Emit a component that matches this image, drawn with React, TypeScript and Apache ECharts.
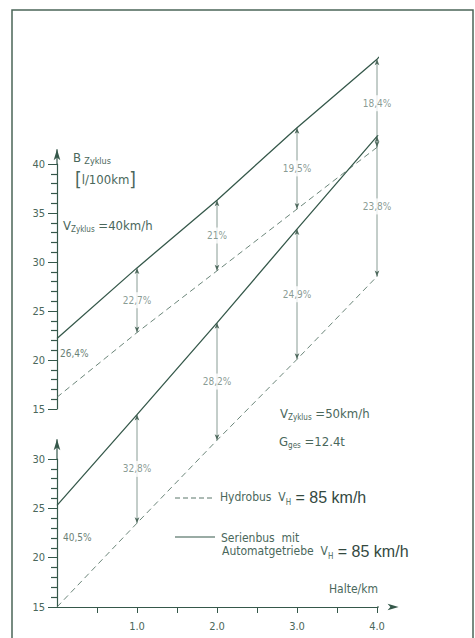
import React, { useEffect, useRef } from "react";
import * as echarts from "echarts";

// Halte/km positions of the drawn points (last one = end of the drawn line)
const halte = [0, 1, 2, 3, 4, 4.16];
// V Zyklus = 40 km/h (upper scale, l/100km)
const serien40 = [22.2, 29.4, 36.3, 43.7, 50.7, 52.0];
const hydro40 = [16.2, 22.8, 29.1, 35.4, 41.7, 42.8];
// V Zyklus = 50 km/h (lower scale, l/100km)
const serien50 = [25.3, 34.5, 43.8, 53.3, 62.7, 64.6];
const hydro50 = [15.0, 23.5, 31.9, 40.1, 48.5, 49.9];
// savings annotations
const arrowHalte = [1, 2, 3, 4];
const pct40 = ["22,7%", "21%", "19,5%", "18,4%"];
const pct50 = ["32,8%", "28,2%", "24,9%", "23,8%"];
const pct40Zero = "26,4%";
const pct50Zero = "40,5%";
// axes
const xTickValues = [0.5, 1, 1.5, 2, 2.5, 3, 3.5, 4];
const xLabelValues = [1, 2, 3, 4];
const majorTicks40 = [15, 20, 25, 30, 35, 40];
const majorTicks50 = [15, 20, 25, 30];
const minorTicks40 = [16, 17, 18, 19, 21, 22, 23, 24, 26, 27, 28, 29, 31, 32, 33, 34, 36, 37, 38, 39];
const minorTicks50 = [16, 17, 18, 19, 21, 22, 23, 24, 26, 27, 28, 29];
const xArrowEnd = 4.27;
const yArrowEnd40 = 41.5;
const yArrowEnd50 = 32;

const F = "'DejaVu Sans Condensed', 'Liberation Sans Narrow', 'DejaVu Sans', sans-serif";
const BIG = "'Liberation Sans', Arimo, sans-serif";
const LINE = "#35584a";
const TEXT = "#4a675b";
const LIGHT = "#6a8177";

function lineSeries(name: string, xi: number, ys: number[], dashed: boolean) {
  return {
    name,
    type: "line",
    xAxisIndex: xi,
    yAxisIndex: xi * 2,
    data: halte.map((x, i) => [x, ys[i]]),
    showSymbol: false,
    symbol: "none",
    clip: false,
    silent: true,
    z: 3,
    lineStyle: dashed
      ? { color: "#5a776a", width: 0.9, type: [6, 4] }
      : { color: LINE, width: 1.3 },
  };
}

function arrowSeries(xi: number, top: number[], bottom: number[]) {
  return arrowHalte.map((x) => {
    const i = halte.indexOf(x);
    return {
      type: "line",
      xAxisIndex: xi,
      yAxisIndex: xi * 2,
      clip: false,
      silent: true,
      z: 2,
      symbol: "arrow",
      symbolSize: [3.5, 6],
      showSymbol: true,
      itemStyle: { color: "#4d685c" },
      lineStyle: { color: "#6b8378", width: 0.8 },
      data: [
        { value: [x, top[i]], symbolRotate: 0 },
        { value: [x, bottom[i]], symbolRotate: 180 },
      ],
    };
  });
}

function labelSeries(xi: number, top: number[], bottom: number[], texts: string[]) {
  return {
    type: "scatter",
    xAxisIndex: xi,
    yAxisIndex: xi * 2,
    clip: false,
    silent: true,
    z: 5,
    symbolSize: 1,
    itemStyle: { color: "rgba(0,0,0,0)" },
    data: arrowHalte.map((x) => {
      const i = halte.indexOf(x);
      return [x, (top[i] + bottom[i]) / 2];
    }),
    label: {
      show: true,
      position: "inside",
      formatter: (p: any) => texts[p.dataIndex],
      color: LIGHT,
      fontSize: 10,
      fontFamily: F,
      backgroundColor: "#ffffff",
      padding: [3, 1],
    },
  };
}

function axisArrow(xi: number, from: number[], to: number[], rot: number) {
  return {
    type: "line",
    xAxisIndex: xi,
    yAxisIndex: xi * 2,
    clip: false,
    silent: true,
    z: 4,
    showSymbol: true,
    lineStyle: { color: LINE, width: 1.2 },
    itemStyle: { color: LINE },
    data: [
      { value: from, symbol: "none" },
      { value: to, symbol: "arrow", symbolSize: [5, 11], symbolRotate: rot },
    ],
  };
}

function yAxisMajor(gridIndex: number, max: number, ticks: number[]) {
  return {
    type: "value",
    gridIndex,
    position: "left",
    offset: 0,
    min: 15,
    max,
    interval: 5,
    axisLine: { show: true, onZero: false, lineStyle: { color: LINE, width: 1.2 } },
    axisTick: { show: true, length: 9, customValues: ticks, lineStyle: { color: LINE, width: 1 } },
    splitLine: { show: false },
    axisLabel: { customValues: ticks, color: TEXT, fontSize: 11, fontFamily: F, margin: 12 },
  };
}

function yAxisMinor(gridIndex: number, max: number, ticks: number[]) {
  return {
    type: "value",
    gridIndex,
    position: "left",
    offset: 0,
    min: 15,
    max,
    interval: 5,
    axisLine: { show: false, onZero: false },
    axisTick: { show: true, length: 6, customValues: ticks, lineStyle: { color: LINE, width: 1.2 } },
    splitLine: { show: false },
    axisLabel: { show: false },
  };
}

export default function App() {
  const ref = useRef<HTMLDivElement>(null);
  useEffect(() => {
    if (!ref.current) return;
    const chart = echarts.init(ref.current, null, { renderer: "svg" });
    const sub = { fontSize: 8, fontFamily: F, fill: TEXT, verticalAlign: "bottom", lineHeight: 17 } as any;
    const mid = { fontSize: 13, fontFamily: F, fill: TEXT, verticalAlign: "middle", lineHeight: 17 } as any;
    chart.setOption({
      animation: false,
      backgroundColor: "#ffffff",
      grid: [
        { left: 57, top: 164, width: 320, height: 245 },
        { left: 57, top: 459, width: 320, height: 148 },
      ],
      xAxis: [
        { type: "value", gridIndex: 0, min: 0, max: 4, show: false },
        {
          type: "value",
          gridIndex: 1,
          min: 0,
          max: 4,
          interval: 0.5,
          axisLine: { show: true, onZero: false, lineStyle: { color: LINE, width: 1.2 } },
          axisTick: { show: true, length: 6, customValues: xTickValues, lineStyle: { color: LINE, width: 1 } },
          splitLine: { show: false },
          axisLabel: {
            customValues: xLabelValues,
            color: TEXT,
            fontSize: 11,
            fontFamily: F,
            margin: 14,
            formatter: (v: number) => (v > 0 && Number.isInteger(v) ? v.toFixed(1) : ""),
          },
        },
      ],
      yAxis: [
        yAxisMajor(0, 40, majorTicks40),
        yAxisMinor(0, 40, minorTicks40),
        yAxisMajor(1, 30, majorTicks50),
        yAxisMinor(1, 30, minorTicks50),
      ],
      series: [
        lineSeries("Serienbus 40", 0, serien40, false),
        lineSeries("Hydrobus 40", 0, hydro40, true),
        lineSeries("Serienbus 50", 1, serien50, false),
        lineSeries("Hydrobus 50", 1, hydro50, true),
        ...arrowSeries(0, serien40, hydro40),
        ...arrowSeries(1, serien50, hydro50),
        labelSeries(0, serien40, hydro40, pct40),
        labelSeries(1, serien50, hydro50, pct50),
        axisArrow(0, [0, 40], [0, yArrowEnd40], 0),
        axisArrow(1, [0, 30], [0, yArrowEnd50], 0),
        axisArrow(1, [4, 15], [xArrowEnd, 15], -90),
      ],
      graphic: [
        {
          type: "rect",
          shape: { x: 12, y: 10, width: 461, height: 645 },
          style: { fill: "none", stroke: "#4b6558", lineWidth: 1.5 },
          silent: true,
        },
        {
          type: "text",
          x: 73,
          y: 157,
          style: {
            text: "{b|B} {s|Zyklus}",
            verticalAlign: "middle",
            rich: { b: mid, s: { ...sub, fontSize: 9 } },
          },
        },
        {
          type: "text",
          x: 75,
          y: 179,
          style: {
            text: "{br|[}{t|l/100km}{br|]}",
            verticalAlign: "middle",
            rich: {
              br: { fontSize: 19, fontFamily: F, fill: TEXT, fontWeight: 200 },
              t: { fontSize: 13, fontFamily: F, fill: TEXT },
            },
          },
        },
        {
          type: "text",
          x: 63,
          y: 225,
          style: {
            text: "{v|V}{s|Zyklus}{t| =40km/h}",
            verticalAlign: "middle",
            rich: { v: mid, s: sub, t: mid },
          },
        },
        {
          type: "text",
          x: 280,
          y: 413,
          style: {
            text: "{v|V}{s|Zyklus}{t| =50km/h}",
            verticalAlign: "middle",
            rich: { v: mid, s: sub, t: mid },
          },
        },
        {
          type: "text",
          x: 279,
          y: 441,
          style: {
            text: "{v|G}{s|ges}{t| =12.4t}",
            verticalAlign: "middle",
            rich: { v: mid, s: sub, t: mid },
          },
        },
        {
          type: "text",
          x: 60,
          y: 353,
          style: { text: pct40Zero, fontSize: 10, fontFamily: F, fill: LIGHT, verticalAlign: "middle" },
        },
        {
          type: "text",
          x: 63,
          y: 537,
          style: { text: pct50Zero, fontSize: 10, fontFamily: F, fill: LIGHT, verticalAlign: "middle" },
        },
        {
          type: "line",
          shape: { x1: 175, y1: 498, x2: 213, y2: 498 },
          style: { stroke: "#5a776a", lineWidth: 1, lineDash: [5, 3] },
        },
        {
          type: "line",
          shape: { x1: 175, y1: 537, x2: 215, y2: 537 },
          style: { stroke: LINE, lineWidth: 1.2 },
        },
        {
          type: "text",
          x: 220,
          y: 497,
          style: {
            text: "{t|Hydrobus  V}{s|H}{b| = 85 km/h}",
            verticalAlign: "middle",
            rich: {
              t: { fontSize: 12, fontFamily: F, fill: TEXT, verticalAlign: "middle", lineHeight: 18 },
              s: { ...sub, fontSize: 8, lineHeight: 18 },
              b: { fontSize: 16, fontFamily: BIG, fill: "#34493f", verticalAlign: "middle", lineHeight: 18 },
            },
          },
        },
        {
          type: "text",
          x: 221,
          y: 538,
          style: { text: "Serienbus  mit", fontSize: 12, fontFamily: F, fill: TEXT, verticalAlign: "middle" },
        },
        {
          type: "text",
          x: 222,
          y: 551,
          style: {
            text: "{t|Automatgetriebe  V}{s|H}{b| = 85 km/h}",
            verticalAlign: "middle",
            rich: {
              t: { fontSize: 12, fontFamily: F, fill: TEXT, verticalAlign: "middle", lineHeight: 18 },
              s: { ...sub, fontSize: 8, lineHeight: 18 },
              b: { fontSize: 16, fontFamily: BIG, fill: "#34493f", verticalAlign: "middle", lineHeight: 18 },
            },
          },
        },
        {
          type: "text",
          x: 329,
          y: 589,
          style: { text: "Halte/km", fontSize: 12, fontFamily: F, fill: TEXT, verticalAlign: "middle" },
        },
      ],
    });
    return () => chart.dispose();
  }, []);
  return (
    <div
      ref={ref}
      style={{ position: "fixed", left: 0, top: 0, width: 475, height: 638, background: "#fff" }}
    />
  );
}
